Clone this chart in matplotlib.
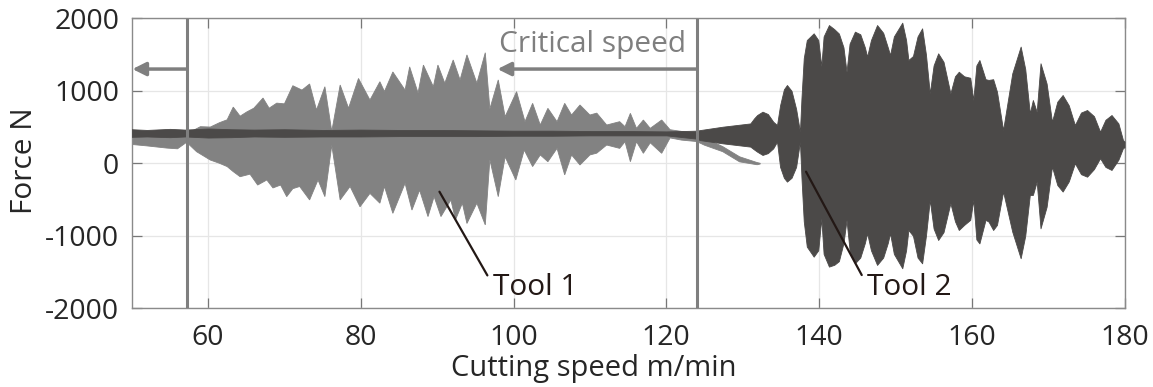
import numpy as np
import matplotlib.pyplot as plt

plt.rcParams['font.family'] = ['Open Sans', 'DejaVu Sans']
plt.rcParams['axes.unicode_minus'] = False

# Tool 1 envelope (light gray), cutting speed m/min vs force N
t1_up_x = [50, 55, 58, 59, 60.3, 61.5, 62.5, 63.3, 64.2, 65.1, 66, 67.2, 68, 69, 70,
           71.1, 72.3, 73.3, 74.2, 75.3, 76.2, 77.3, 78.4, 79.7, 81.2, 82.5, 83.1, 84.2,
           85.8, 86.4, 87.5, 88.2, 89.5, 90.1, 91, 92.1, 93, 93.9, 95.2, 96.3, 96.9, 98,
           98.9, 100.4, 101.5, 102.5, 103.5, 104.5, 105.7, 106.7, 107.6, 108.7, 110,
           110.9, 112.2, 113.9, 114.6, 115.3, 116.1, 117, 117.9, 119.4, 120.5, 122, 124,
           125, 127.4, 129.6, 131.9, 132.3]
t1_up_y = [440, 445, 450, 505, 500, 560, 600, 775, 650, 710, 760, 900, 760, 830, 820,
           1070, 1010, 1094, 735, 1056, 440, 1080, 760, 1170, 873, 1125, 990, 1260,
           1010, 1330, 970, 1355, 1056, 1355, 1105, 1425, 1150, 1495, 1105, 1525, 750, 1150,
           643, 988, 574, 827, 528, 758, 574, 827, 666, 804, 666,
           692, 528, 574, 505, 689, 482, 597, 482, 597, 463, 440, 418,
           350, 230, 90, 10, 0]
t1_lo_x = [50, 52, 54.6, 56, 57.2, 58.5, 60.3, 61.5, 62.5, 63.3, 64.2, 65.5, 66.5, 67.7,
           68.5, 69.5, 70.3, 71.1, 72, 73.3, 74.4, 75.3, 76.2, 77.3, 78.6, 79.9, 81.2,
           82.5, 83.1, 84.2, 85.8, 86.7, 87.7, 88.8, 89.6, 90.5, 91.8, 92.4, 93.3, 93.9,
           95.2, 96.3, 96.9, 98, 98.9, 100.3, 101.4, 102.5, 103.5, 104.5, 105.7, 106.7,
           107.6, 108.7, 110, 110.9, 112.2, 113.9, 114.6, 115.3, 116.1, 117, 117.9, 119.4,
           120.5, 122, 124, 125, 127.4, 129.6, 131.9, 132.3]
t1_lo_y = [260, 240, 210, 200, 290, 160, 45, 0, -45, -115, -185, -150, -300, -230,
           -340, -300, -460, -350, -320, -505, -230, -460, 250, -505, -320, -600, -415,
           -550, -320, -690, -275, -645, -370, -735, -460, -735, -505, -780, -550, -830,
           -550, -850, 50, -460, 90, -230, 183, -45, 115, 22, 206, -160,
           115, -23, 115, 140, 252, 206, 298, 22, 298, 138, 283, 138,
           350, 320, 300, 250, 160, 20, -20, -10]

# Tool 2 envelope (dark gray)
t2_x = [50, 52, 55, 57, 60, 63, 66, 70, 75, 80, 85, 90, 95, 100, 105, 110, 115, 120,
        124, 124.4, 127.4, 131, 131.5, 131.9, 132.6, 133.3, 134, 134.5, 134.9, 135.4,
        135.8, 136.4, 137.0, 137.5, 137.7, 138.0, 138.4, 139.3, 139.9, 140.3, 140.6,
        141.3, 142.0, 142.6, 143.2, 143.6, 144.0, 144.7, 145.4, 146.0, 146.3, 146.8,
        147.6, 148.4, 149.0, 149.3, 149.8, 150.9, 151.4, 151.7, 152.3, 152.9, 153.5,
        154.0, 154.5, 155.0, 155.6, 156.3, 157.2, 157.8, 158.3, 159.0, 159.8, 160.2,
        160.6, 161.0, 161.8, 162.2, 162.8, 163.3, 164.1, 165.3, 166.4, 167.0, 167.6,
        168.0, 168.5, 169.0, 169.8, 170.5, 171.2, 171.9, 172.7, 173.5, 174.3, 175.1,
        176.0, 176.8, 177.5, 178.3, 179.2, 179.8, 180]
t2_up = [470, 460, 475, 465, 480, 470, 465, 470, 460, 465, 460, 460, 455, 450, 450, 445,
         445, 440, 450, 458, 505, 550, 620, 666, 712, 680, 574, 528, 800, 1020,
         1080, 1000, 750, 436, 900, 1450, 1700, 1793, 1700, 1340, 1750,
         1907, 1850, 1790, 1600, 1263, 1650, 1816, 1780, 1600, 1472, 1700,
         1907, 1800, 1600, 1494, 1750, 1940, 1700, 1425, 1480, 1750, 1862,
         1500, 965, 1350, 1517, 1400, 965, 1200, 1263, 1200, 1180, 873,
         1350, 1425, 1160, 1150, 1160, 988, 460, 1240, 1610, 1300, 690,
         873, 711, 1380, 1100, 574, 850, 942, 800, 528, 700, 735,
         650, 436, 600, 666, 550, 320, 300]
t2_lo = [365, 370, 360, 370, 355, 360, 370, 365, 370, 370, 375, 375, 375, 380, 380, 385,
         385, 385, 340, 320, 275, 230, 190, 160, 115, 140, 206, 298, -50, -200,
         -253, -200, -50, 298, -200, -800, -1150, -1288, -1200, -760, -1250,
         -1425, -1400, -1350, -1100, -782, -1200, -1380, -1300, -1100, -965, -1200,
         -1402, -1300, -1100, -965, -1250, -1448, -1200, -920, -1000, -1300, -1380,
         -1000, -505, -900, -1058, -950, -550, -800, -920, -850, -780, -505,
         -1050, -1105, -780, -805, -920, -850, -390, -943, -1310, -1000, -437,
         -437, -253, -897, -600, -45, -300, -390, -250, 0, -150, -185,
         -80, 70, -50, -92, 50, 210, 220]

crit_speeds = [57.2, 124.0]

fig, ax = plt.subplots(figsize=(11.53, 3.87), dpi=100)
fig.subplots_adjust(left=0.1142, right=0.9753, top=0.9527, bottom=0.2034)

ax.fill(t1_up_x + t1_lo_x[::-1], t1_up_y + t1_lo_y[::-1],
        color='#828282', lw=0.6, zorder=2)
ax.fill_between(t2_x, t2_lo, t2_up, color='#4b4948', lw=0.6, zorder=3)

gray = '#7f7f7f'
for xs in crit_speeds:
    ax.axvline(xs, ymin=0.006, ymax=0.994, color=gray, lw=2.2, zorder=4)

ax.annotate('', xy=(50.1, 1300), xytext=(crit_speeds[0], 1300),
            arrowprops=dict(arrowstyle='-|>,head_length=0.8,head_width=0.4',
                            color=gray, lw=2.5, shrinkA=0, shrinkB=0), zorder=4)
ax.annotate('', xy=(97.9, 1300), xytext=(crit_speeds[1], 1300),
            arrowprops=dict(arrowstyle='-|>,head_length=0.8,head_width=0.4',
                            color=gray, lw=2.5, shrinkA=0, shrinkB=0), zorder=4)
ax.text(122.6, 1640, 'Critical speed', color=gray, fontsize=21.5,
        ha='right', va='center', zorder=5)

ink = '#231815'
ax.annotate('Tool 1', xy=(90.3, -392), xytext=(97.3, -1720), fontsize=21.5, color=ink,
            ha='left', va='center',
            arrowprops=dict(arrowstyle='-', color=ink, lw=1.6, shrinkA=4, shrinkB=0,
                            relpos=(0, 0.6)), zorder=6)
ax.annotate('Tool 2', xy=(138.3, -116), xytext=(146.3, -1720), fontsize=21.5, color=ink,
            ha='left', va='center',
            arrowprops=dict(arrowstyle='-', color=ink, lw=1.6, shrinkA=4, shrinkB=0,
                            relpos=(0, 0.6)), zorder=6)

ax.set_xlim(50, 180)
ax.set_ylim(-2000, 2000)
ax.set_xticks([60, 80, 100, 120, 140, 160, 180])
ax.set_yticks([-2000, -1000, 0, 1000, 2000])
ax.grid(True, color='#e6e6e6', lw=0.9, zorder=0)
ax.set_axisbelow(True)
ax.tick_params(direction='in', length=7, width=0.9, color='#777777',
               top=True, right=True, labelsize=20.5, labelcolor='#262626')
ax.tick_params(axis='x', pad=11)
ax.tick_params(axis='y', pad=9)
for s in ax.spines.values():
    s.set_color('#8a8a8a')
    s.set_linewidth(1.0)
ax.set_xlabel('Cutting speed m/min', fontsize=21, color='#262626', va='center')
ax.set_ylabel('Force N', fontsize=21.5, color='#262626', va='center')
ax.xaxis.set_label_coords(0.465, -0.206)
ax.yaxis.set_label_coords(-0.108, 0.51)

fig.savefig('out.png', dpi=100)
